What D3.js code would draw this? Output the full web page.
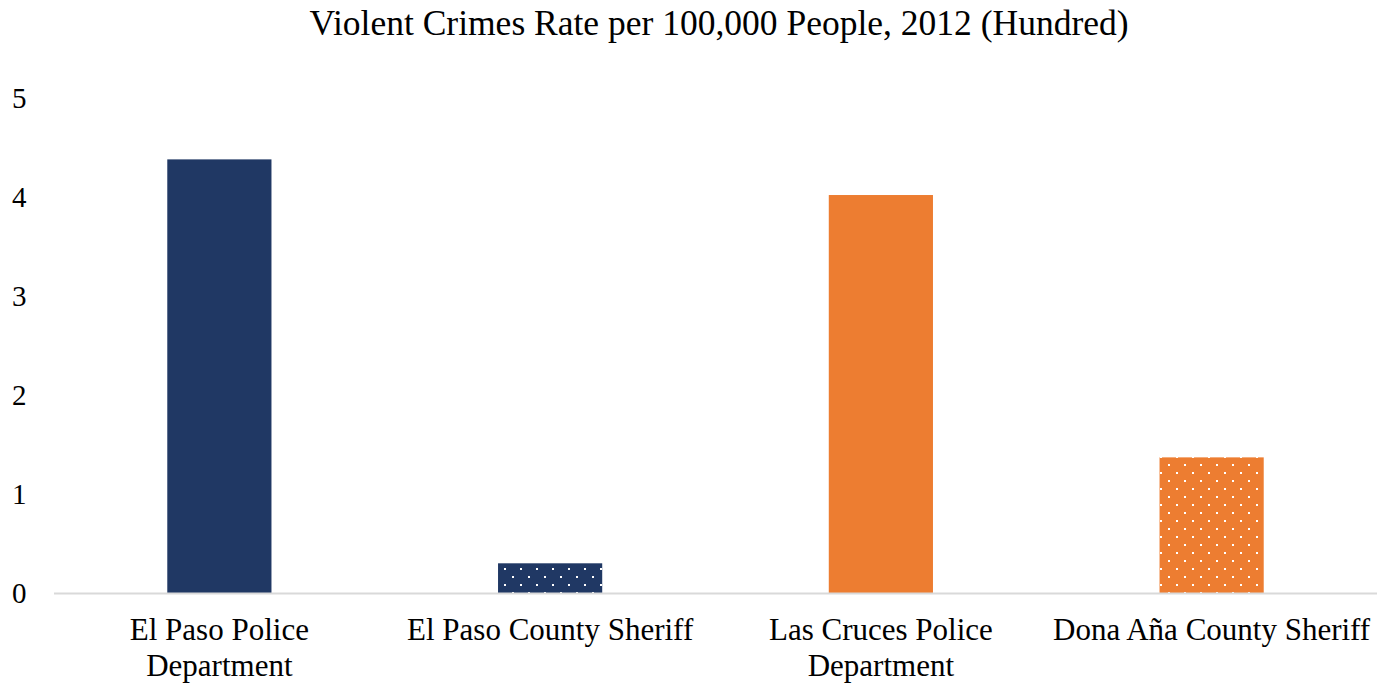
<!DOCTYPE html>
<html><head><meta charset="utf-8">
<script src="https://cdn.jsdelivr.net/npm/d3@7"></script>
<style>body{margin:0;background:#fff}svg{display:block}</style>
</head><body>
<svg id="c" width="1390" height="684"></svg>
<script>
const categories = [["El Paso Police","Department"],["El Paso County Sheriff"],["Las Cruces Police","Department"],["Dona Aña County Sheriff"]];
const values = [4.38, 0.30, 4.02, 1.37];
const colors = ["#203864","#203864","#ED7D31","#ED7D31"];
const patterned = [false, true, false, true];
const yTicks = [0,1,2,3,4,5];
const title = "Violent Crimes Rate per 100,000 People, 2012 (Hundred)";

const W=1390,H=684, m={l:54,r:13,t:98,b:91};
const svg=d3.select("#c");
const font="'Liberation Serif', 'Times New Roman', serif";
const defs=svg.append("defs");
["#203864","#ED7D31"].forEach((c,i)=>{
  const p=defs.append("pattern").attr("id","dots"+i).attr("patternUnits","userSpaceOnUse")
    .attr("width",16).attr("height",16);
  p.append("rect").attr("width",16).attr("height",16).attr("fill",c);
  p.append("rect").attr("x",0).attr("y",0).attr("width",2).attr("height",2).attr("fill","#fff");
  p.append("rect").attr("x",8).attr("y",8).attr("width",2).attr("height",2).attr("fill","#fff");
});
const x=d3.scaleBand().domain(d3.range(categories.length)).range([m.l,W-m.r]).padding(0);
const y=d3.scaleLinear().domain([0,5]).range([H-m.b,m.t]);
const bw=x.bandwidth()*0.315;
svg.append("text").attr("x",719).attr("y",35).attr("text-anchor","middle")
  .attr("font-family",font).attr("font-size",35.5).attr("fill","#000").text(title);
yTicks.forEach(t=>{
  svg.append("text").attr("x",12).attr("y",y(t)+10).attr("font-family",font)
    .attr("font-size",29).attr("fill","#000").text(t);
});
svg.selectAll(".bar").data(values).enter().append("rect")
  .attr("x",(d,i)=>x(i)+x.bandwidth()/2-bw/2).attr("width",bw)
  .attr("y",d=>y(d)).attr("height",d=>y(0)-y(d))
  .attr("fill",(d,i)=>patterned[i]?"url(#dots"+(colors[i]==="#203864"?0:1)+")":colors[i]);
svg.append("line").attr("x1",m.l).attr("x2",W-m.r).attr("y1",y(0)+0.5).attr("y2",y(0)+0.5)
  .attr("stroke","#d9d9d9").attr("stroke-width",2);
categories.forEach((lines,i)=>{
  const t=svg.append("text").attr("text-anchor","middle").attr("font-family",font)
    .attr("font-size",31).attr("fill","#000");
  lines.forEach((s,j)=>t.append("tspan").attr("x",x(i)+x.bandwidth()/2).attr("y",640+j*36).text(s));
});
</script></body></html>
